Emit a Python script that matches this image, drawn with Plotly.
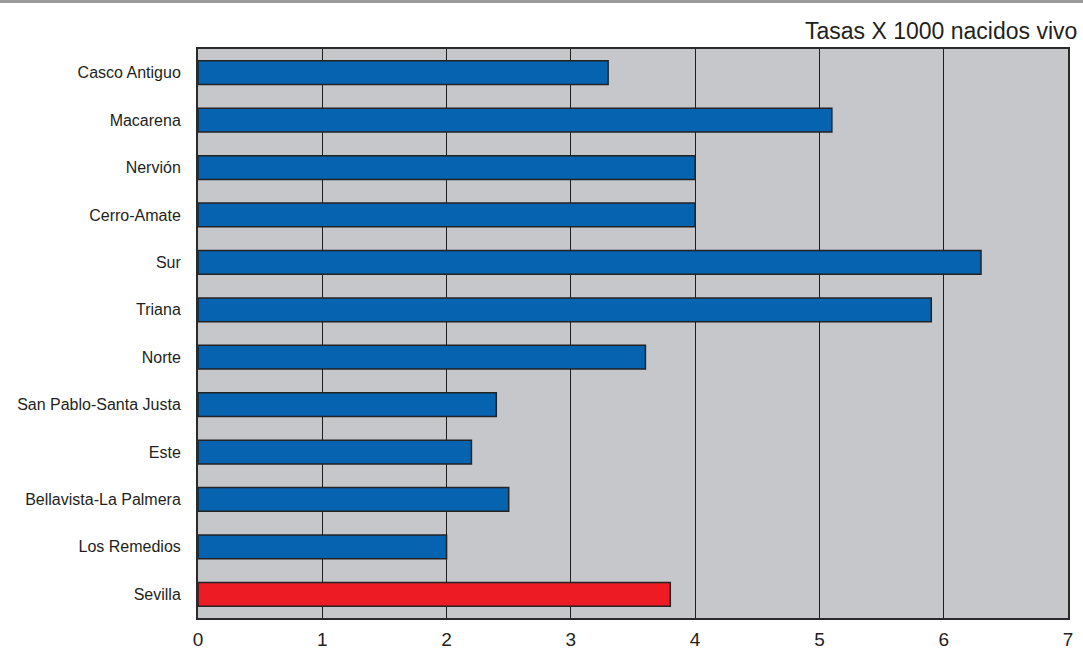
import plotly.graph_objects as go

categories = ["Casco Antiguo", "Macarena", "Nervión", "Cerro-Amate", "Sur", "Triana",
              "Norte", "San Pablo-Santa Justa", "Este", "Bellavista-La Palmera",
              "Los Remedios", "Sevilla"]
values = [3.3, 5.1, 4.0, 4.0, 6.3, 5.9, 3.6, 2.4, 2.2, 2.5, 2.0, 3.8]
total_label = "Sevilla"
x_ticks = [0, 1, 2, 3, 4, 5, 6, 7]
title_text = "Tasas X 1000 nacidos vivo"

W, H = 1083, 650
L, R, T, B = 198, 15, 49, 32

colors = ["#ed1c24" if c == total_label else "#0563b0" for c in categories]

fig = go.Figure(go.Bar(
    x=values, y=categories, orientation="h", width=0.5,
    marker=dict(color=colors, line=dict(color="#232323", width=1.5)),
    hoverinfo="x+y",
))

pw = W - L - R
ph = H - T - B
fig.update_layout(
    width=W, height=H,
    margin=dict(l=L, r=R, t=T, b=B, pad=0),
    paper_bgcolor="white", plot_bgcolor="#c6c7cb",
    showlegend=False,
    font=dict(family="Liberation Sans, Arial, sans-serif", color="#231f20"),
    xaxis=dict(range=[0, 7], tickvals=x_ticks, showgrid=True, gridcolor="#1e1e1e",
               gridwidth=1, zeroline=False, showline=True, linecolor="#2a2a2a",
               linewidth=2, mirror=True, ticks="outside", ticklen=0, automargin=False,
               ticklabelstandoff=3, tickfont=dict(size=19, color="#231f20")),
    yaxis=dict(autorange="reversed", showgrid=False, zeroline=False, showline=True,
               linecolor="#2a2a2a", linewidth=2, mirror=True, ticks="outside",
               ticklen=0, automargin=False, ticklabelstandoff=12,
               tickfont=dict(size=16, color="#231f20")),
    annotations=[dict(text=title_text, xref="paper", yref="paper",
                      x=(1079 - L) / pw, y=(H - 31 - B) / ph, xanchor="right",
                      yanchor="middle", showarrow=False,
                      font=dict(size=23, color="#231f20"))],
    shapes=[dict(type="rect", xref="paper", yref="paper",
                 x0=-L / pw, x1=(W - L) / pw,
                 y0=(H - 3 - B) / ph, y1=(H - B) / ph,
                 fillcolor="#9a9a9a", line=dict(width=0), layer="above")],
)

fig.write_html("out.html", config={"displayModeBar": False},
               post_script="document.body.style.margin='0';document.body.style.overflow='hidden';")
